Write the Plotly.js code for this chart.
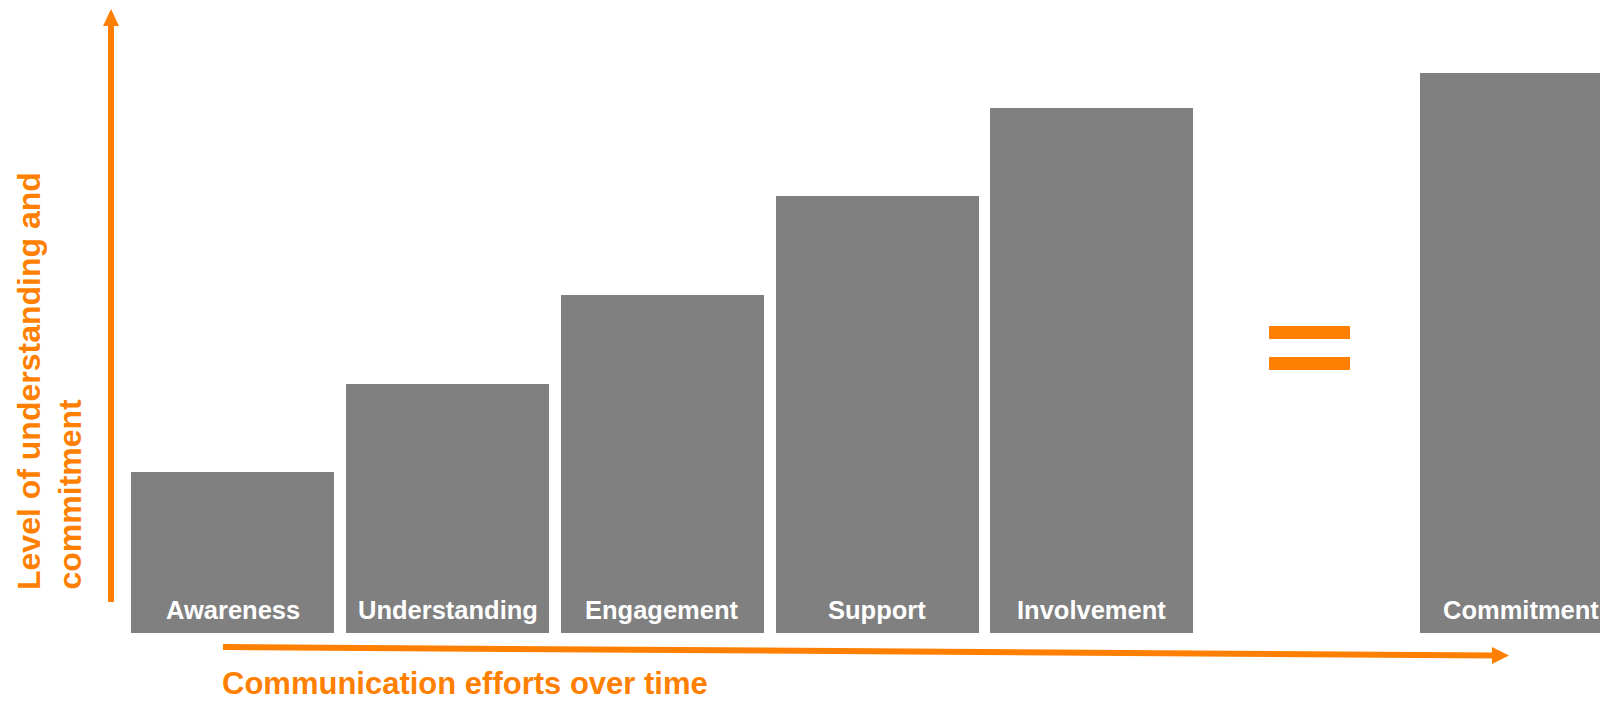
<!DOCTYPE html>
<html><head><meta charset="utf-8">
<script src="https://cdn.plot.ly/plotly-3.0.1.min.js"></script>
<style>html,body{margin:0;padding:0;background:#fff;overflow:hidden;}#chart{width:1600px;height:703px;}</style>
</head><body><div id="chart"></div>
<script>
// ---- data ----
const stages = ['Awareness', 'Understanding', 'Engagement', 'Support', 'Involvement', 'Commitment'];
const levels = [28.8, 44.5, 60.4, 78.0, 93.8, 100];
const axisOrder = ['Awareness', 'Understanding', 'Engagement', 'Support', 'Involvement', '=', 'Commitment'];
const yTitleLines = ['Level of understanding and', 'commitment'];
const xTitle = 'Communication efforts over time';

// ---- styling ----
const W = 1600, H = 703;
const ORANGE = '#ff7f00', GREY = '#808080';
const FONT = '"Liberation Sans", Arial, sans-serif';
const px = x => x / W;
const py = y => 1 - y / H;

const barTrace = {
  type: 'bar',
  x: stages,
  y: levels,
  width: 0.9455,
  marker: {color: GREY, line: {width: 0}},
  hoverinfo: 'skip'
};

const labelAnnotations = stages.map(s => ({
  x: s, y: 0, xref: 'x', yref: 'y',
  text: '<b>' + s + '</b>',
  showarrow: false,
  xanchor: 'center', yanchor: 'bottom', yshift: 7,
  font: {family: FONT, size: 25.5, color: '#ffffff'}
}));

const yTitleAnnotations = yTitleLines.map((line, i) => ({
  xref: 'paper', yref: 'paper', x: px(9 + 40 * i), y: py(592),
  xanchor: 'left', yanchor: 'bottom', showarrow: false,
  textangle: -90,
  text: '<b>' + line + '</b>',
  font: {family: FONT, size: 32, color: ORANGE}
}));

const annotations = labelAnnotations.concat(yTitleAnnotations, [
  {
    xref: 'paper', yref: 'paper', x: px(220), y: 0,
    xanchor: 'left', yanchor: 'bottom', showarrow: false,
    text: '<b>' + xTitle + '</b>',
    font: {family: FONT, size: 31, color: ORANGE}
  }
]);

function tri(p1, p2, p3) {
  return 'M' + px(p1[0]) + ',' + py(p1[1]) + ' L' + px(p2[0]) + ',' + py(p2[1]) +
         ' L' + px(p3[0]) + ',' + py(p3[1]) + ' Z';
}
function rect(x0, y0, x1, y1) {
  return {type: 'rect', xref: 'paper', yref: 'paper', x0: px(x0), x1: px(x1), y0: py(y1), y1: py(y0),
          fillcolor: ORANGE, line: {width: 0}};
}

const shapes = [
  // vertical arrow
  {type: 'line', xref: 'paper', yref: 'paper', x0: px(111), x1: px(111), y0: py(602), y1: py(24),
   line: {color: ORANGE, width: 6}},
  {type: 'path', xref: 'paper', yref: 'paper', path: tri([111, 9], [103, 26], [119, 26]),
   fillcolor: ORANGE, line: {width: 0}},
  // horizontal arrow
  {type: 'line', xref: 'paper', yref: 'paper', x0: px(223), x1: px(1494), y0: py(647), y1: py(655.5),
   line: {color: ORANGE, width: 6}},
  {type: 'path', xref: 'paper', yref: 'paper', path: tri([1509, 655.5], [1492, 647], [1492, 664]),
   fillcolor: ORANGE, line: {width: 0}},
  // equals sign
  rect(1269, 326, 1350, 339),
  rect(1269, 357, 1350, 370)
];

const layout = {
  width: W, height: H,
  margin: {l: 0, r: 0, t: 0, b: 0, pad: 0},
  paper_bgcolor: '#ffffff', plot_bgcolor: '#ffffff',
  showlegend: false,
  bargap: 0,
  xaxis: {type: 'category', categoryorder: 'array', categoryarray: axisOrder,
          range: [-1.0852, 6.3671], visible: false, fixedrange: true},
  yaxis: {range: [-12.5, 113.04], visible: false, fixedrange: true},
  annotations: annotations,
  shapes: shapes
};

Plotly.newPlot('chart', [barTrace], layout, {staticPlot: true, displayModeBar: false});
</script>
</body></html>
